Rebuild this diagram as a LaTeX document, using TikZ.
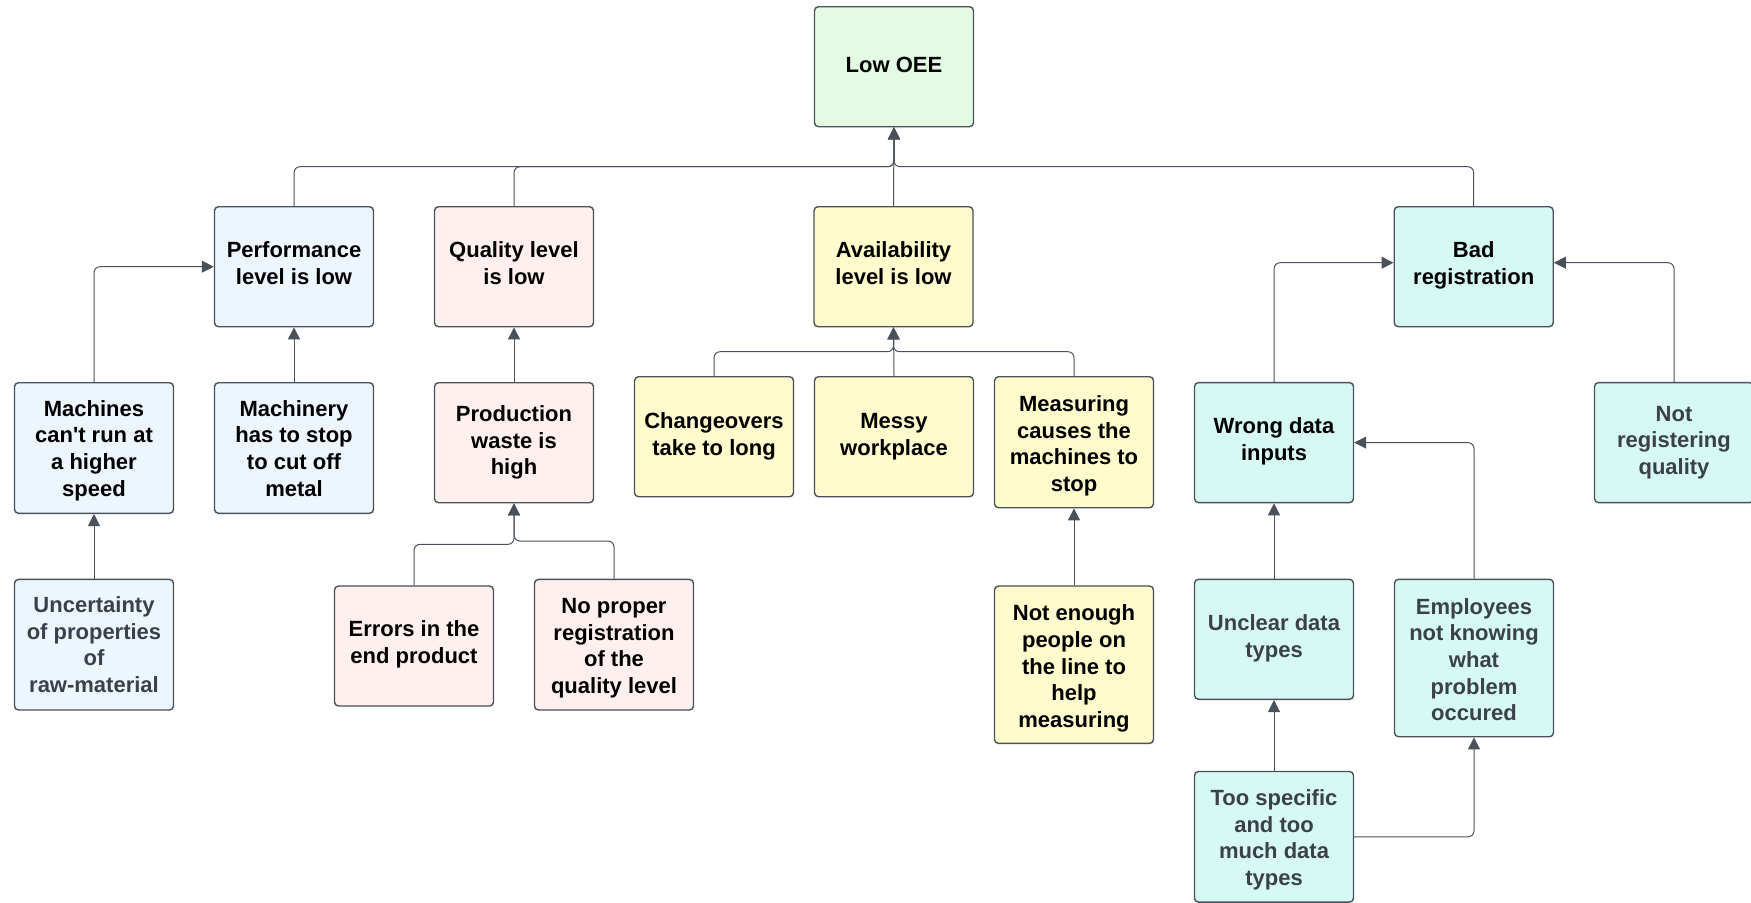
\documentclass[tikz,border=0pt]{standalone}
\usepackage{fontspec}
\setmainfont{Liberation Sans}
\usetikzlibrary{arrows.meta}
\definecolor{cgreen}{HTML}{E3FAE3}
\definecolor{cblue}{HTML}{EDF5FF}
\definecolor{cpink}{HTML}{FFEFEF}
\definecolor{cyellow}{HTML}{FFFBCC}
\definecolor{cteal}{HTML}{D7F9F3}
\definecolor{cstroke}{HTML}{4A515B}
\definecolor{cgraytext}{HTML}{3A414A}
\begin{document}
\begin{tikzpicture}[x=0.5pt,y=-0.5pt,
  box/.style={draw=cstroke, line width=0.7pt, rounded corners=2pt, minimum width=79.5pt,
    inner sep=0pt, align=center, font=\fontsize{11pt}{13.3pt}\selectfont\bfseries,
    text depth=4pt},
  th/.style={text height=#1},
  hA/.style={minimum height=60pt},
  hB/.style={minimum height=65.3pt},
  hC/.style={minimum height=78.7pt},
  gtext/.style={text=cgraytext},
  conn/.style={draw=cstroke, line width=0.5pt, rounded corners=3pt,
    -{Triangle[length=6pt,width=6pt]}},
]
\useasboundingbox (0,0) rectangle (1751,902);

% top
\node[box,hA,fill=cgreen,th=9.7pt] (oee) at (894,66.7) {Low OEE};
% level 1
\node[box,hA,fill=cblue,th=21.4pt] (perf) at (294,266.7) {Performance\\level is low};
\node[box,hA,fill=cpink,th=21.4pt] (qual) at (514,266.7) {Quality level\\is low};
\node[box,hA,fill=cyellow,th=21.4pt] (avail) at (893.5,266.7) {Availability\\level is low};
\node[box,hA,fill=cteal,th=21.4pt] (badreg) at (1473.7,266.7) {Bad\\registration};
% level 2
\node[box,hB,fill=cblue,th=52.1pt] (mach) at (94,448) {Machines\\can\textquotesingle t run at\\a higher\\speed};
\node[box,hB,fill=cblue,th=52.1pt] (machinery) at (294,448) {Machinery\\has to stop\\to cut off\\metal};
\node[box,hA,fill=cpink,th=35.9pt] (waste) at (514,442.7) {Production\\waste is\\high};
\node[box,hA,fill=cyellow,th=22.5pt] (change) at (714,436.7) {Changeovers\\take to long};
\node[box,hA,fill=cyellow,th=22.5pt] (messy) at (894,436.7) {Messy\\workplace};
\node[box,minimum height=65.5pt,fill=cyellow,th=53.2pt] (measuring) at (1074,442.2) {Measuring\\causes the\\machines to\\stop};
\node[box,hA,fill=cteal,th=21.4pt] (wrong) at (1274,442.6) {Wrong data\\inputs};
\node[box,hA,fill=cteal,gtext,th=35.9pt] (notreg) at (1674,442.6) {Not\\registering\\quality};
% level 3
\node[box,hB,fill=cblue,gtext,th=51.5pt] (uncert) at (94,644.7) {Uncertainty\\of properties\\of\\raw-material};
\node[box,hA,fill=cpink,th=21.4pt] (errors) at (414,646) {Errors in the\\end product};
\node[box,hB,fill=cpink,th=52.7pt] (noproper) at (614,644.7) {No proper\\registration\\of the\\quality level};
\node[box,hC,fill=cyellow,th=66.6pt] (notenough) at (1074,664.7) {Not enough\\people on\\the line to\\help\\measuring};
\node[box,hA,fill=cteal,gtext,th=21.9pt] (unclear) at (1274,639.3) {Unclear data\\types};
\node[box,hC,fill=cteal,gtext,th=66.6pt] (employees) at (1474,658) {Employees\\not knowing\\what\\problem\\occured};
% level 4
\node[box,hB,fill=cteal,gtext,th=52.7pt] (toospec) at (1274,836.8) {Too specific\\and too\\much data\\types};

% junction coordinates
\coordinate (bus) at (oee.south |- 0,166.7);
\coordinate (abus) at (avail.south |- 0,351.7);

% connectors to Low OEE
\draw[conn] (perf.north) |- (bus) -- (oee.south);
\draw[conn] (qual.north) |- (bus) -- (oee.south);
\draw[conn] (avail.north) -- (oee.south);
\draw[conn] (badreg.north) |- (bus) -- (oee.south);
% performance
\draw[conn] (mach.north) |- (perf.west);
\draw[conn] (machinery.north) -- (perf.south);
\draw[conn] (uncert.north) -- (mach.south);
% quality
\draw[conn] (waste.north) -- (qual.south);
\draw[conn] (errors.north) |- (waste.south |- 0,544.3) -- (waste.south);
\draw[conn] (noproper.north) |- (waste.south |- 0,541) -- (waste.south);
% availability
\draw[conn] (change.north) |- (abus) -- (avail.south);
\draw[conn] (messy.north) -- (avail.south);
\draw[conn] (measuring.north) |- (abus) -- (avail.south);
\draw[conn] (notenough.north) -- (measuring.south);
% registration
\draw[conn] (wrong.north) |- ([yshift=2pt]badreg.west);
\draw[conn] (notreg.north) |- ([yshift=2pt]badreg.east);
\draw[conn] (unclear.north) -- (wrong.south);
\draw[conn] (employees.north) |- (wrong.east);
\draw[conn] (toospec.north) -- (unclear.south);
\draw[conn] (toospec.east) -| (employees.south);
\end{tikzpicture}
\end{document}
